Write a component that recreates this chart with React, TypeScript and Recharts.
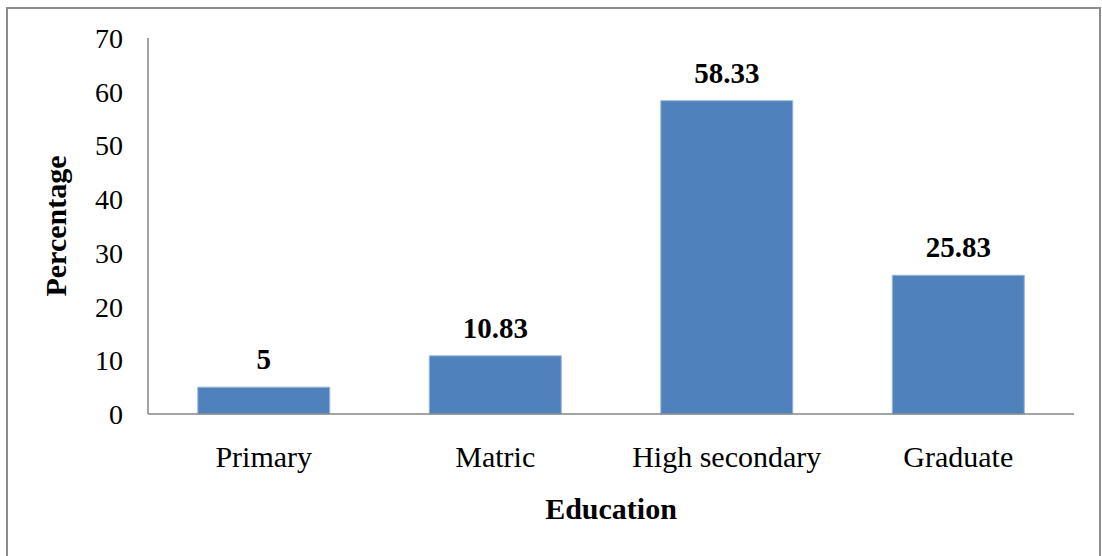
import React from "react";
import { BarChart, Bar, XAxis, YAxis, LabelList, Label } from "recharts";

// Education levels and the share of respondents at each level (%)
const categories = ["Primary", "Matric", "High secondary", "Graduate"];
const percentages = [5, 10.83, 58.33, 25.83];
const yTicks = [0, 10, 20, 30, 40, 50, 60, 70];

const data = categories.map((name, i) => ({ name, value: percentages[i] }));

const FONT = "'Liberation Serif', 'Times New Roman', serif";
const AXIS_GRAY = "#868686";

export default function App() {
  return (
    <div
      style={{
        position: "fixed",
        left: 0,
        top: 0,
        width: 1102,
        height: 556,
        overflow: "hidden",
        background: "#ffffff",
      }}
    >
      {/* frame around the chart area */}
      <div
        style={{
          position: "absolute",
          left: 6,
          top: 7,
          width: 1091,
          height: 580,
          border: "2px solid #8c8c8c",
          boxSizing: "content-box",
        }}
      />
      <div style={{ position: "absolute", left: 0, top: 0 }}>
        <BarChart
          width={1102}
          height={556}
          data={data}
          margin={{ top: 38, right: 28, bottom: 112, left: 88 }}
          barCategoryGap="21.5%"
        >
          <XAxis
            dataKey="name"
            axisLine={{ stroke: AXIS_GRAY, strokeWidth: 1.5 }}
            tickLine={false}
            tickSize={0}
            tickMargin={32}
            height={30}
            interval={0}
            tick={{ fill: "#000", fontSize: 30, fontFamily: FONT }}
          >
            <Label
              value="Education"
              position="bottom"
              offset={0}
              dy={54}
              style={{ fill: "#000", fontSize: 30, fontWeight: "bold", fontFamily: FONT }}
            />
          </XAxis>
          <YAxis
            type="number"
            domain={[0, 70]}
            ticks={yTicks}
            interval={0}
            width={60}
            axisLine={{ stroke: AXIS_GRAY, strokeWidth: 1.5 }}
            tickLine={false}
            tickSize={0}
            tickMargin={25}
            tick={{ fill: "#000", fontSize: 28, fontFamily: FONT }}
          >
            <Label
              value="Percentage"
              angle={-90}
              position="insideLeft"
              dx={-38}
              style={{
                fill: "#000",
                fontSize: 30,
                fontWeight: "bold",
                fontFamily: FONT,
                textAnchor: "middle",
              }}
            />
          </YAxis>
          <Bar
            dataKey="value"
            fill="#4F81BD"
            stroke="#9DB8DC"
            strokeWidth={1}
            isAnimationActive={false}
          >
            <LabelList
              dataKey="value"
              position="top"
              offset={18}
              style={{ fill: "#000", fontSize: 29, fontWeight: "bold", fontFamily: FONT }}
            />
          </Bar>
        </BarChart>
      </div>
    </div>
  );
}
